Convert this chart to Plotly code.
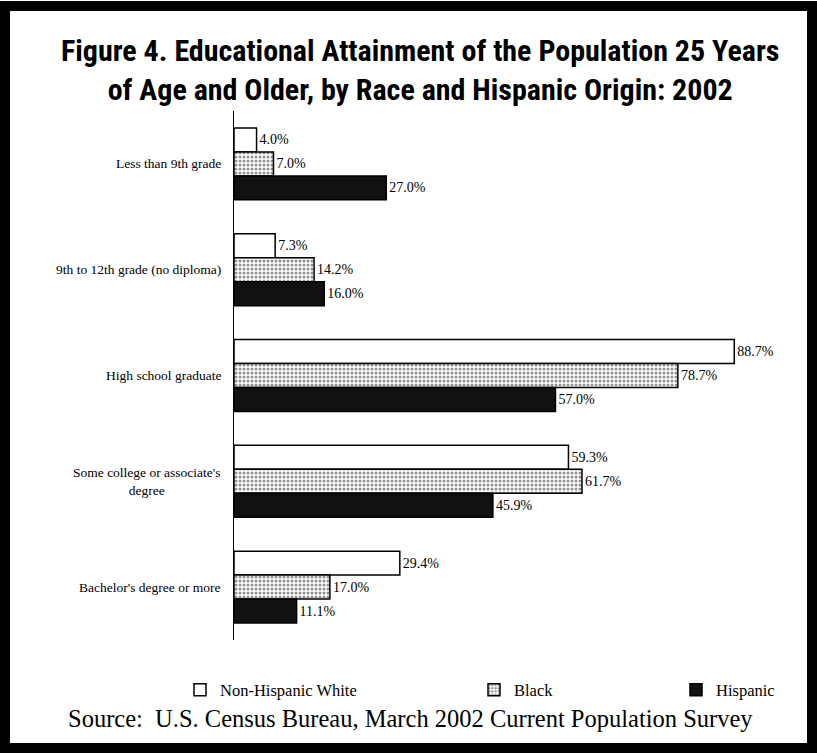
import plotly.graph_objects as go

categories = ["Less than 9th grade", "9th to 12th grade (no diploma)", "High school graduate",
              "Some college or associate's<br>degree", "Bachelor's degree or more"]
white_vals = [4.0, 7.3, 88.7, 59.3, 29.4]
black_vals = [7.0, 14.2, 78.7, 61.7, 17.0]
hisp_vals = [27.0, 16.0, 57.0, 45.9, 11.1]
series_names = ["Non-Hispanic White", "Black", "Hispanic"]

W, H = 817, 753
ML, MR, MT, MB = 234, 19, 111, 113
PW = W - ML - MR
PH = H - MT - MB

def px_x(p):
    return (p - ML) / PW

def px_y(p):
    return (H - MB - p) / PH

serif = "Liberation Serif, Times New Roman, serif"

fig = go.Figure()
fig.add_trace(go.Bar(
    y=categories, x=white_vals, orientation="h", name=series_names[0],
    marker=dict(color="white", line=dict(color="black", width=1.5)),
    text=[f"{v:.1f}%" for v in white_vals], textposition="outside",
    textfont=dict(family=serif, size=14, color="black"), cliponaxis=False,
    legend="legend",
))
fig.add_trace(go.Bar(
    y=categories, x=black_vals, orientation="h", name=series_names[1],
    marker=dict(color="white", line=dict(color="black", width=1.5),
                pattern=dict(shape=".", size=4, solidity=0.45, fgcolor="#222", bgcolor="white",
                             fillmode="overlay")),
    text=[f"{v:.1f}%" for v in black_vals], textposition="outside",
    textfont=dict(family=serif, size=14, color="black"), cliponaxis=False,
    legend="legend2",
))
fig.add_trace(go.Bar(
    y=categories, x=hisp_vals, orientation="h", name=series_names[2],
    marker=dict(color="#111111", line=dict(color="black", width=1.5)),
    text=[f"{v:.1f}%" for v in hisp_vals], textposition="outside",
    textfont=dict(family=serif, size=14, color="black"), cliponaxis=False,
    legend="legend3",
))

annotations = []
for c in categories:
    annotations.append(dict(
        x=0, xref="paper", y=c, yref="y", xanchor="right", yanchor="middle",
        xshift=-11, text=c, showarrow=False, align="center",
        font=dict(family=serif, size=13.5, color="black")))

annotations.append(dict(
    x=px_x(420), xref="paper", y=px_y(70), yref="paper", xanchor="center", yanchor="middle",
    text="<b>Figure 4. Educational Attainment of the Population 25 Years<br>of Age and Older, by Race and Hispanic Origin: 2002</b>",
    showarrow=False, align="center",
    font=dict(family="Roboto Condensed, Liberation Sans Narrow, Arial Narrow, sans-serif",
              size=30, color="black")))

annotations.append(dict(
    x=px_x(410), xref="paper", y=px_y(718), yref="paper", xanchor="center", yanchor="middle",
    text="Source:  U.S. Census Bureau, March 2002 Current Population Survey",
    showarrow=False, font=dict(family=serif, size=24.5, color="black")))

leg_common = dict(orientation="h", yanchor="middle", y=px_y(690), xanchor="left",
                  font=dict(family=serif, size=16.5, color="black"), bgcolor="rgba(0,0,0,0)",
                  borderwidth=0)

fig.update_layout(
    width=W, height=H,
    margin=dict(l=ML, r=MR, t=MT, b=MB),
    paper_bgcolor="white", plot_bgcolor="white",
    barmode="group", bargap=0.32, bargroupgap=0,
    showlegend=True,
    legend=dict(x=px_x(180), **leg_common),
    legend2=dict(x=px_x(474), **leg_common),
    legend3=dict(x=px_x(676), **leg_common),
    xaxis=dict(range=[0, 100], showgrid=False, zeroline=False, showticklabels=False,
               showline=False, ticks=""),
    yaxis=dict(categoryorder="array", categoryarray=categories, autorange="reversed",
               showgrid=False, zeroline=False, showticklabels=False, ticks="",
               showline=True, linecolor="black", linewidth=1),
    annotations=annotations,
    shapes=[dict(type="rect", xref="paper", yref="paper",
                 x0=px_x(5), x1=px_x(812), y0=px_y(6), y1=px_y(748),
                 line=dict(color="black", width=10), fillcolor="rgba(0,0,0,0)")],
)

fig.write_html("out.html")
